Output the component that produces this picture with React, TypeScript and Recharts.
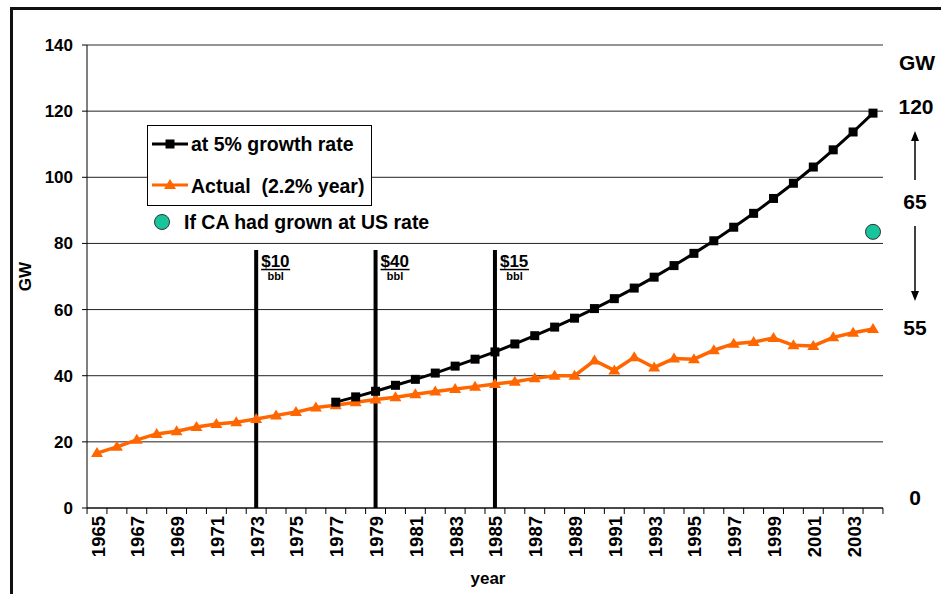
import { ComposedChart, Line, XAxis, YAxis, CartesianGrid, ReferenceLine, Legend } from "recharts";

const FONT = "'Liberation Sans', Arial, sans-serif";

const years = [
  1965, 1966, 1967, 1968, 1969, 1970, 1971, 1972, 1973, 1974,
  1975, 1976, 1977, 1978, 1979, 1980, 1981, 1982, 1983, 1984,
  1985, 1986, 1987, 1988, 1989, 1990, 1991, 1992, 1993, 1994,
  1995, 1996, 1997, 1998, 1999, 2000, 2001, 2002, 2003, 2004,
];

// actual CA peak demand, GW
const actual = [
  16.6, 18.5, 20.6, 22.4, 23.2, 24.5, 25.4, 25.9, 26.9, 28.0,
  29.0, 30.4, 31.1, 32.0, 32.8, 33.5, 34.4, 35.2, 36.0, 36.7,
  37.5, 38.2, 39.2, 40.0, 40.0, 44.6, 41.6, 45.6, 42.5, 45.2,
  45.0, 47.7, 49.7, 50.2, 51.4, 49.2, 49.0, 51.6, 53.0, 54.1,
];

// projection at 5% growth, starting 1977
const growth5 = [
  null, null, null, null, null, null, null, null, null, null,
  null, null, 32.0, 33.6, 35.3, 37.1, 38.9, 40.8, 42.9, 45.0,
  47.2, 49.6, 52.1, 54.7, 57.4, 60.3, 63.3, 66.5, 69.8, 73.3,
  77.0, 80.8, 84.9, 89.1, 93.6, 98.2, 103.1, 108.3, 113.7, 119.4,
];

const usRate = [
  null, null, null, null, null, null, null, null, null, null,
  null, null, null, null, null, null, null, null, null, null,
  null, null, null, null, null, null, null, null, null, null,
  null, null, null, null, null, null, null, null, null, 83.5,
];

const oilYears = [1973, 1979, 1985];
const oilPrices = ["$10", "$40", "$15"];
const oilLineTop = 78;

const yTicks = [0, 20, 40, 60, 80, 100, 120, 140];
const rightLabels = ["120", "65", "55", "0"];

const data = years.map((year, i) => ({
  year,
  actual: actual[i],
  growth5: growth5[i],
  usRate: usRate[i],
}));

const BAND = 19.9;

function YearTick(props: any) {
  const { x, y, payload } = props;
  const i = years.indexOf(payload.value);
  const ty = y + 8;
  return (
    <g>
      <line x1={x - BAND / 2} x2={x - BAND / 2} y1={y} y2={y + 6} stroke="#000" />
      {i === years.length - 1 && (
        <line x1={x + BAND / 2} x2={x + BAND / 2} y1={y} y2={y + 6} stroke="#000" />
      )}
      {i % 2 === 0 && (
        <text
          x={x + 1}
          y={ty}
          transform={`rotate(-90 ${x + 1} ${ty})`}
          textAnchor="end"
          dominantBaseline="central"
          fontSize={18.5}
          fontWeight="bold"
          fill="#000"
          fontFamily={FONT}
        >
          {payload.value}
        </text>
      )}
    </g>
  );
}

const squareDot = (p: any) => {
  if (p.cx == null || p.cy == null || p.value == null) return <g key={`s${p.index}`} />;
  return <rect key={`s${p.index}`} x={p.cx - 4.5} y={p.cy - 4.5} width={9} height={9} fill="#000" />;
};

const triangleDot = (p: any) => {
  if (p.cx == null || p.cy == null) return <g key={`t${p.index}`} />;
  return (
    <polygon
      key={`t${p.index}`}
      points={`${p.cx},${p.cy - 6} ${p.cx - 6},${p.cy + 4} ${p.cx + 6},${p.cy + 4}`}
      fill="#ff6600"
    />
  );
};

const tealDot = (p: any) => {
  if (p.cx == null || p.cy == null || p.value == null) return <g key={`c${p.index}`} />;
  return <circle key={`c${p.index}`} cx={p.cx} cy={p.cy} r={7.5} fill="#17c49b" stroke="#333" strokeWidth={1} />;
};

const oilLabel = (price: string) => (props: any) => {
  const vb = props.viewBox || {};
  const x = vb.x + 5;
  const y = vb.y;
  return (
    <g fontFamily={FONT} fontWeight="bold" fill="#000">
      <text x={x} y={y + 17} fontSize={17}>{price}</text>
      <line x1={x} x2={x + 29} y1={y + 19.5} y2={y + 19.5} stroke="#000" strokeWidth={1.5} />
      <text x={x + 14.5} y={y + 30} fontSize={11} textAnchor="middle">bbl</text>
    </g>
  );
};

function LegendBox() {
  return (
    <svg width={300} height={112} style={{ display: "block" }}>
      <rect x={0.5} y={0.5} width={224} height={80} fill="#fff" stroke="#000" />
      <g fontFamily={FONT} fontWeight="bold" fontSize={19.5} fill="#000">
        <line x1={5} x2={41} y1={19} y2={19} stroke="#000" strokeWidth={3} />
        <rect x={18.5} y={14.5} width={9} height={9} fill="#000" />
        <text x={44} y={26}>at 5% growth rate</text>
        <line x1={5} x2={41} y1={60} y2={60} stroke="#ff6600" strokeWidth={3} />
        <polygon points="23,54 17,64 29,64" fill="#ff6600" />
        <text x={44} y={68} style={{ whiteSpace: "pre" }}>Actual  (2.2% year)</text>
        <circle cx={15} cy={97} r={7.5} fill="#17c49b" stroke="#333" strokeWidth={1} />
        <text x={37} y={104}>If CA had grown at US rate</text>
      </g>
    </svg>
  );
}

export default function App() {
  return (
    <div
      style={{
        position: "absolute",
        left: 0,
        top: 0,
        width: 941,
        height: 594,
        overflow: "hidden",
        background: "#fff",
        fontFamily: FONT,
      }}
    >
      <div
        style={{
          position: "absolute",
          left: 10,
          top: 7,
          width: 1000,
          height: 700,
          borderLeft: "3px solid #111",
          borderTop: "3px solid #111",
        }}
      />
      <div style={{ position: "absolute", left: 0, top: 0 }}>
        <ComposedChart width={941} height={594} data={data} margin={{ top: 45, right: 58, bottom: 0, left: 7 }}>
          <CartesianGrid vertical={false} stroke="#222" />
          <XAxis
            dataKey="year"
            interval={0}
            padding={{ left: 10, right: 10 }}
            height={86}
            tickSize={0}
            tickMargin={0}
            tickLine={false}
            axisLine={{ stroke: "#000" }}
            tick={<YearTick />}
            label={(p: any) => {
              const vb = p.viewBox || {};
              return (
                <text
                  x={vb.x + vb.width / 2 + 3}
                  y={vb.y + 76}
                  textAnchor="middle"
                  fontSize={17}
                  fontWeight="bold"
                  fontFamily={FONT}
                  fill="#000"
                >
                  year
                </text>
              );
            }}
          />
          <YAxis
            width={80}
            domain={[0, 140]}
            ticks={yTicks}
            interval={0}
            tickSize={5}
            tickMargin={9}
            axisLine={{ stroke: "#000" }}
            tickLine={{ stroke: "#000" }}
            tick={{ fill: "#000", fontSize: 17, fontWeight: "bold", fontFamily: FONT }}
            label={(p: any) => {
              const vb = p.viewBox || {};
              const cx = vb.x + 18;
              const cy = vb.y + vb.height / 2;
              return (
                <text
                  x={cx}
                  y={cy}
                  transform={`rotate(-90 ${cx} ${cy})`}
                  textAnchor="middle"
                  dominantBaseline="central"
                  fontSize={17}
                  fontWeight="bold"
                  fontFamily={FONT}
                  fill="#000"
                >
                  GW
                </text>
              );
            }}
          />
          <YAxis
            yAxisId="right"
            orientation="right"
            width={0}
            domain={[0, 140]}
            tick={false}
            tickLine={false}
            axisLine={{ stroke: "#999" }}
          />
          <ReferenceLine y={140} stroke="#999" />
          {oilYears.map((yr, i) => (
            <ReferenceLine
              key={yr}
              segment={[
                { x: yr, y: 0 },
                { x: yr, y: oilLineTop },
              ]}
              stroke="#000"
              strokeWidth={4}
              label={oilLabel(oilPrices[i])}
            />
          ))}
          <Line
            type="linear"
            dataKey="actual"
            stroke="#ff6600"
            strokeWidth={3.5}
            dot={triangleDot}
            activeDot={false}
            isAnimationActive={false}
          />
          <Line
            type="linear"
            dataKey="growth5"
            stroke="#000"
            strokeWidth={3}
            dot={squareDot}
            activeDot={false}
            isAnimationActive={false}
          />
          <Line
            type="linear"
            dataKey="usRate"
            stroke="none"
            dot={tealDot}
            activeDot={false}
            isAnimationActive={false}
          />
          <Legend
            layout="vertical"
            align="center"
            verticalAlign="middle"
            content={() => <LegendBox />}
            wrapperStyle={{ position: "absolute", left: 147, top: 125, width: 300, height: 112 }}
          />
        </ComposedChart>
      </div>
      <svg
        width={941}
        height={594}
        style={{ position: "absolute", left: 0, top: 0, pointerEvents: "none" }}
      >
        <g fontFamily={FONT} fontWeight="bold" fontSize={21} fill="#000">
          <text x={899} y={70}>GW</text>
          <text x={916} y={114} textAnchor="middle">{rightLabels[0]}</text>
          <text x={915} y={209} textAnchor="middle">{rightLabels[1]}</text>
          <text x={915} y={335} textAnchor="middle">{rightLabels[2]}</text>
          <text x={915} y={505} textAnchor="middle">{rightLabels[3]}</text>
        </g>
        <line x1={915} x2={915} y1={180} y2={140} stroke="#000" strokeWidth={1.5} />
        <polygon points="915,131 911,141 919,141" fill="#000" />
        <line x1={915} x2={915} y1={226} y2={292} stroke="#000" strokeWidth={1.5} />
        <polygon points="915,301 911,291 919,291" fill="#000" />
      </svg>
    </div>
  );
}
